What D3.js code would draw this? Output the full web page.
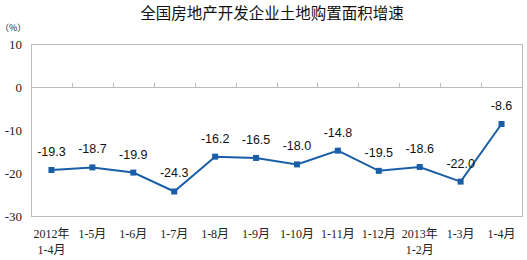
<!DOCTYPE html>
<html>
<head>
<meta charset="utf-8">
<script src="https://cdn.jsdelivr.net/npm/d3@7"></script>
<style>
body { margin: 0; background: #fff; }
svg { display: block; }
</style>
</head>
<body>
<svg id="chart" width="527" height="260"></svg>
<script>
// categories (two-line labels) and values
var catLine1 = ["2012年", "1-5月", "1-6月", "1-7月", "1-8月", "1-9月", "1-10月", "1-11月", "1-12月", "2013年", "1-3月", "1-4月"];
var catLine2 = ["1-4月", "", "", "", "", "", "", "", "", "1-2月", "", ""];
var values = [-19.3, -18.7, -19.9, -24.3, -16.2, -16.5, -18.0, -14.8, -19.5, -18.6, -22.0, -8.6];
var yTicks = [10, 0, -10, -20, -30];

var margin = { top: 44, right: 5, bottom: 44, left: 31 },
    width = 527 - margin.left - margin.right,
    height = 260 - margin.top - margin.bottom;

var svg = d3.select("#chart");

svg.append("text")
    .attr("x", 272)
    .attr("y", 19)
    .attr("text-anchor", "middle")
    .style("font-family", "'Noto Sans CJK SC', sans-serif")
    .style("font-size", "15.5px")
    .style("fill", "#111")
    .text("全国房地产开发企业土地购置面积增速");

svg.append("text")
    .attr("x", 0)
    .attr("y", 31)
    .style("font-family", "'Noto Sans CJK SC', sans-serif")
    .style("font-size", "9px")
    .style("fill", "#222")
    .text("（%）");

var g = svg.append("g")
    .attr("transform", "translate(" + margin.left + "," + margin.top + ")");

var x = d3.scaleBand().domain(d3.range(values.length)).range([0, width]);
var y = d3.scaleLinear().domain([-30, 10]).range([height, 0]);

// frame
g.append("rect")
    .attr("x", 0.5).attr("y", 0.5)
    .attr("width", width).attr("height", height)
    .attr("fill", "none")
    .attr("stroke", "#bcbcbc");

// y axis labels (plain hyphen minus like the original)
g.append("g")
    .call(d3.axisLeft(y).tickValues(yTicks).tickSize(0).tickPadding(9).tickFormat(d => String(d)))
    .call(s => s.select(".domain").remove())
    .selectAll("text")
    .style("font-family", "'Liberation Serif', serif")
    .style("font-size", "13px")
    .style("fill", "#222");

// zero line with category ticks
g.append("line")
    .attr("x1", 0).attr("x2", width)
    .attr("y1", Math.round(y(0)) + 0.5).attr("y2", Math.round(y(0)) + 0.5)
    .attr("stroke", "#bcbcbc");

g.selectAll(".cat-tick")
    .data(d3.range(1, values.length))
    .enter().append("line")
    .attr("class", "cat-tick")
    .attr("x1", d => Math.round(x(d)) + 0.5)
    .attr("x2", d => Math.round(x(d)) + 0.5)
    .attr("y1", Math.round(y(0)) - 4)
    .attr("y2", Math.round(y(0)))
    .attr("stroke", "#bcbcbc");

// category labels
var catFont = "'Liberation Serif', 'Noto Sans CJK SC', serif";
g.selectAll(".cat1")
    .data(catLine1)
    .enter().append("text")
    .attr("x", (d, i) => x(i) + x.bandwidth() / 2)
    .attr("y", height + 22)
    .attr("text-anchor", "middle")
    .style("font-family", catFont)
    .style("font-size", "12px")
    .style("fill", "#222")
    .text(d => d);

g.selectAll(".cat2")
    .data(catLine2)
    .enter().append("text")
    .attr("x", (d, i) => x(i) + x.bandwidth() / 2)
    .attr("y", height + 38)
    .attr("text-anchor", "middle")
    .style("font-family", catFont)
    .style("font-size", "12px")
    .style("fill", "#222")
    .text(d => d);

// line
var line = d3.line()
    .x((d, i) => x(i) + x.bandwidth() / 2)
    .y(d => y(d));

g.append("path")
    .datum(values)
    .attr("d", line)
    .attr("fill", "none")
    .attr("stroke", "#1a5ea8")
    .attr("stroke-width", 2);

g.selectAll(".pt")
    .data(values)
    .enter().append("rect")
    .attr("x", (d, i) => x(i) + x.bandwidth() / 2 - 3)
    .attr("y", d => y(d) - 3)
    .attr("width", 6)
    .attr("height", 6)
    .attr("fill", "#1a5ea8");

g.selectAll(".lbl")
    .data(values)
    .enter().append("text")
    .attr("x", (d, i) => x(i) + x.bandwidth() / 2)
    .attr("y", d => y(d) - 14)
    .attr("text-anchor", "middle")
    .style("font-family", "'Liberation Sans', Arial, sans-serif")
    .style("font-size", "12.5px")
    .style("fill", "#111")
    .text(d => d.toFixed(1));
</script>
</body>
</html>
